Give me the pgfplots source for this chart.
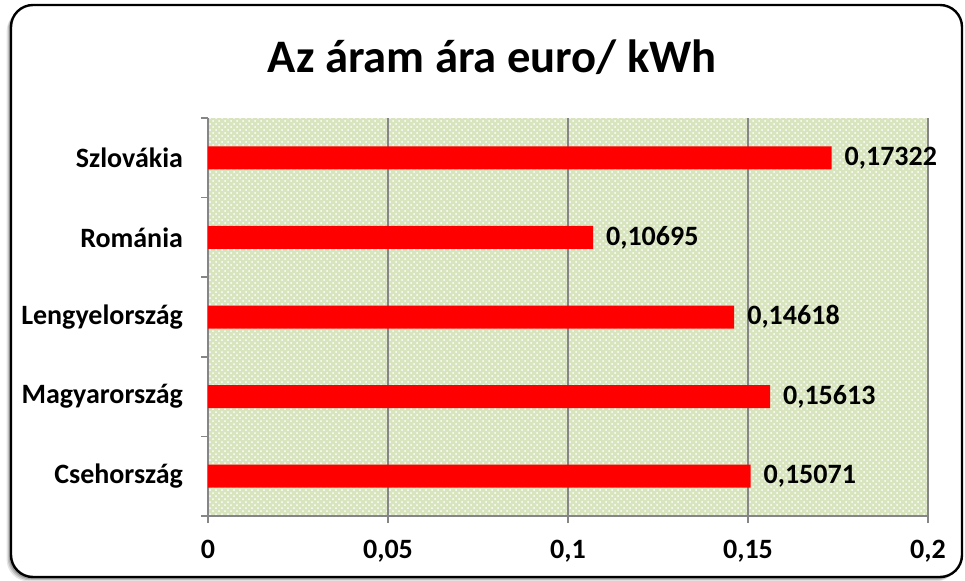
\documentclass[border=0pt]{standalone}
\usepackage{pgfplots}
\pgfplotsset{compat=1.18}
\usepackage{fontspec}
\setmainfont{Carlito}
\usetikzlibrary{patterns}

\definecolor{plotbg}{RGB}{215,228,189}
\definecolor{axgray}{RGB}{134,134,134}

\begin{document}
\begin{tikzpicture}
\useasboundingbox (0,0) rectangle (482.5pt,290pt);
% shadow + frame
\foreach \o/\a in {2.2/0.10,1.6/0.15,1.0/0.2} {
  \fill[black,opacity=\a,rounded corners=11pt]
    (5.5pt-\o pt,1.5pt-\o pt) rectangle (481pt-\o pt,287.5pt-\o pt);
}
\draw[fill=white,line width=1.2pt,rounded corners=11pt] (5.5pt,1.5pt) rectangle (481pt,287.5pt);

\node[anchor=base,font=\fontsize{23.3}{28}\selectfont\bfseries] at (246.25pt,254pt) {Az áram ára euro/ kWh};

\begin{axis}[
  at={(104pt,32pt)},
  scale only axis,
  width=360pt, height=199pt,
  xbar,
  xmin=0, xmax=0.2,
  ymin=-0.5, ymax=4.5,
  axis x line*=bottom,
  axis y line*=left,
  axis line style={axgray, line width=0.8pt},
  xtick={0,0.05,0.1,0.15,0.2},
  xticklabels={0,{0,05},{0,1},{0,15},{0,2}},
  ytick={0,1,2,3,4},
  yticklabels={Csehország,Magyarország,Lengyelország,Románia,Szlovákia},
  minor ytick={-0.5,0.5,1.5,2.5,3.5,4.5},
  tick align=outside,
  major tick length=3.5pt,
  minor tick length=3.5pt,
  major y tick style={draw=none},
  tick style={axgray, line width=0.8pt},
  xmajorgrids,
  grid style={axgray, line width=0.8pt},
  ticklabel style={font=\fontsize{14}{17}\selectfont\bfseries},
  yticklabel style={anchor=east, xshift=-5.5pt},
  xticklabel style={yshift=-5pt},
  axis background/.style={fill=plotbg, postaction={pattern=crosshatch dots, pattern color=white}},
  bar width=11.5pt,
  point meta=x,
  nodes near coords={\pgfmathprintnumber[assume math mode=true, fixed, fixed zerofill, precision=5, use comma]{\pgfplotspointmeta}},
  nodes near coords style={font=\fontsize{14}{17}\selectfont\bfseries, anchor=west, xshift=3pt, text=black},
  clip=false,
]
\addplot[fill=red, draw=none] coordinates {
  (0.15071,0) (0.15613,1) (0.14618,2) (0.10695,3) (0.17322,4)
};
\end{axis}
\end{tikzpicture}
\end{document}
